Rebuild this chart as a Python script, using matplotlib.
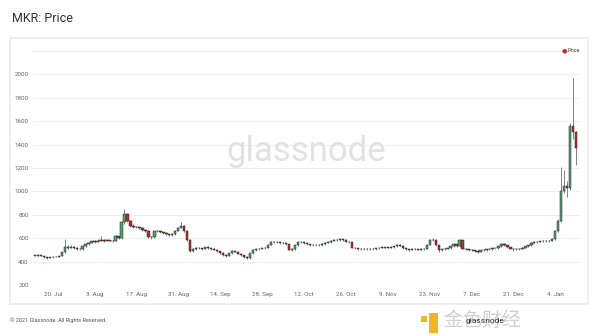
import numpy as np
import pandas as pd
import matplotlib
matplotlib.use("Agg")
import matplotlib.pyplot as plt
import matplotlib.dates as mdates
from matplotlib.patches import Rectangle

# daily MKR candles, 14 Jul 2020 - 11 Jan 2021
dates = pd.date_range("2020-07-14", "2021-01-11", freq="D")
first_open = 450
closes = [
    452, 456, 447, 438, 432, 436, 440, 443, 446, 478,
    525, 520, 527, 514, 510, 506, 530, 550, 562, 574,
    568, 580, 586, 578, 582, 580, 577, 618, 600, 735,
    805, 745, 705, 700, 694, 688, 672, 664, 610, 606,
    658, 660, 652, 648, 636, 628, 632, 664, 690, 705,
    662, 588, 492, 510, 518, 512, 508, 522, 515, 510,
    500, 490, 476, 460, 448, 470, 490, 486, 468, 455,
    440, 430, 470, 500, 505, 510, 515, 520, 545, 570,
    568, 565, 560, 555, 548, 502, 506, 540, 568, 565,
    555, 548, 542, 538, 545, 540, 550, 560, 566, 580,
    588, 585, 590, 586, 570, 565, 520, 512, 508, 505,
    510, 506, 510, 505, 515, 520, 518, 522, 520, 525,
    530, 545, 535, 515, 505, 500, 508, 505, 503, 506,
    508, 545, 585, 588, 540, 495, 505, 510, 512, 530,
    550, 530, 585, 510, 505, 498, 495, 492, 485, 495,
    500, 505, 508, 512, 515, 530, 552, 540, 522, 510,
    505, 508, 510, 520, 530, 540, 560, 566, 570, 574,
    578, 576, 580, 592, 660, 745, 1000, 1045, 1030, 1560,
    1505, 1370,
]
highs = [
    458, 462, 458, 449, 441, 440, 446, 448, 452, 482,
    592, 540, 545, 530, 522, 515, 534, 556, 570, 580,
    582, 590, 615, 592, 590, 588, 584, 628, 622, 745,
    850, 815, 752, 725, 708, 700, 695, 680, 670, 622,
    662, 668, 664, 656, 652, 640, 638, 670, 695, 742,
    712, 668, 595, 515, 525, 528, 520, 526, 535, 520,
    515, 506, 494, 480, 466, 474, 495, 498, 490, 472,
    460, 445, 474, 504, 512, 515, 520, 528, 550, 576,
    578, 575, 570, 566, 560, 552, 512, 545, 572, 574,
    570, 560, 552, 548, 552, 550, 555, 565, 572, 586,
    596, 594, 596, 595, 590, 575, 568, 526, 518, 514,
    515, 514, 516, 515, 520, 526, 525, 528, 526, 530,
    535, 552, 550, 538, 520, 510, 512, 512, 510, 512,
    514, 550, 592, 600, 590, 545, 510, 515, 518, 535,
    556, 552, 590, 588, 515, 510, 504, 500, 496, 500,
    505, 510, 514, 518, 520, 535, 558, 556, 545, 526,
    515, 512, 516, 525, 536, 545, 565, 572, 576, 580,
    585, 584, 586, 600, 668, 760, 1210, 1180, 1085, 1585,
    1970, 1520,
]
lows = [
    445, 449, 444, 434, 426, 429, 433, 437, 440, 444,
    472, 508, 512, 505, 500, 496, 502, 524, 545, 556,
    560, 564, 574, 570, 572, 574, 568, 572, 594, 596,
    725, 735, 695, 690, 684, 680, 664, 655, 600, 596,
    600, 650, 645, 640, 630, 620, 622, 628, 658, 684,
    655, 580, 478, 485, 502, 505, 500, 504, 508, 502,
    495, 484, 468, 452, 440, 444, 466, 478, 462, 448,
    432, 418, 426, 466, 494, 498, 505, 510, 515, 540,
    560, 558, 552, 548, 540, 495, 494, 502, 536, 558,
    550, 540, 535, 530, 534, 532, 536, 546, 555, 562,
    575, 578, 580, 580, 565, 558, 512, 505, 500, 498,
    498, 500, 500, 498, 500, 510, 512, 512, 514, 515,
    518, 526, 530, 510, 498, 492, 495, 498, 496, 498,
    500, 504, 540, 575, 535, 480, 488, 500, 505, 508,
    525, 525, 525, 505, 498, 492, 488, 485, 470, 480,
    488, 494, 500, 502, 506, 510, 526, 535, 518, 505,
    490, 495, 500, 505, 515, 525, 535, 555, 560, 565,
    568, 568, 570, 575, 588, 655, 740, 990, 950, 1010,
    1450, 1225,
]
opens = [first_open] + closes[:-1]

y_ticks = [200, 400, 600, 800, 1000, 1200, 1400, 1600, 1800, 2000]
x_ticks = pd.date_range("2020-07-20", "2021-01-04", freq="14D")
x_labels = [f"{d.day}. {d.strftime('%b')}" for d in x_ticks]

up_col = "#53a072"
down_col = "#b7302b"

plt.rcParams["font.family"] = ["Roboto", "DejaVu Sans"]
fig = plt.figure(figsize=(6, 3.35), dpi=100)
W, H = 600, 335

# panel frame (behind the axes)
fig.patches.append(Rectangle((10 / W, 1 - 304 / H), 578 / W, 266 / H, transform=fig.transFigure,
                             facecolor="white", edgecolor="#ececec", lw=1.2, zorder=-5))
fig.text(12 / W, 1 - 19 / H, "MKR: Price", fontsize=9, color="#333333", va="center")

ax = fig.add_axes([33 / W, 1 - 285 / H, (580 - 33) / W, (285 - 51) / H])
ax.set_facecolor("none")
ax.set_zorder(2)

x = mdates.date2num(dates)
o = np.array(opens, dtype=float)
c = np.array(closes, dtype=float)
is_up = c >= o
colors = np.where(is_up, up_col, down_col)
bottoms = np.minimum(o, c)
heights = np.maximum(np.abs(c - o), 3)

ax.vlines(x, lows, highs, color="#6e6e6e", lw=0.6, zorder=2)
ax.bar(x, heights, bottom=bottoms, width=0.75, color=colors, edgecolor="#222222", lw=0.35, zorder=3)

ax.set_ylim(200, 2200)
ax.set_xlim(mdates.date2num(pd.Timestamp("2020-07-13 10:00")), mdates.date2num(pd.Timestamp("2021-01-12 06:00")))
ax.set_yticks(y_ticks + [2200])
ax.set_yticklabels([str(v) for v in y_ticks] + [""])
ax.set_xticks(mdates.date2num(x_ticks))
ax.set_xticklabels(x_labels)
ax.tick_params(axis="both", length=0, labelsize=4.5, labelcolor="#666666")
ax.tick_params(axis="y", pad=3)
ax.tick_params(axis="x", pad=5)
ax.grid(axis="y", color="#ececec", lw=0.6)
ax.set_axisbelow(True)
for s in ax.spines.values():
    s.set_visible(False)

# watermark + legend
ax.text(0.5, 0.57, "glassnode", transform=ax.transAxes, fontsize=25, color="#e2e2e2",
        ha="center", va="center", zorder=1)
fig.text(564 / W, 1 - 51 / H, "\u25cf", fontsize=4.5, color="#c0302a", ha="center", va="center",
         family=["DejaVu Sans"])
fig.text(568 / W, 1 - 51 / H, "Price", fontsize=4, color="#444444", va="center")

# footer
fig.text(10 / W, 1 - 320 / H, "\u00a9 2021 Glassnode. All Rights Reserved.", fontsize=4, color="#555555", va="center")
fig.patches.append(Rectangle((429 / W, 1 - 333 / H), 9 / W, 20 / H, transform=fig.transFigure,
                             facecolor="#f0b429", edgecolor="none"))
fig.patches.append(Rectangle((421 / W, 1 - 322 / H), 6 / W, 6 / H, transform=fig.transFigure,
                             facecolor="#f0b429", edgecolor="none"))
fig.text(443 / W, 1 - 320 / H, "金色财经", fontsize=14, color="#d0d0d0", va="center",
         family=["Noto Sans CJK SC", "DejaVu Sans"])
fig.text(466 / W, 1 - 321 / H, "glassnode", fontsize=6, color="#333333", va="center")

fig.savefig("out.png", dpi=100)
